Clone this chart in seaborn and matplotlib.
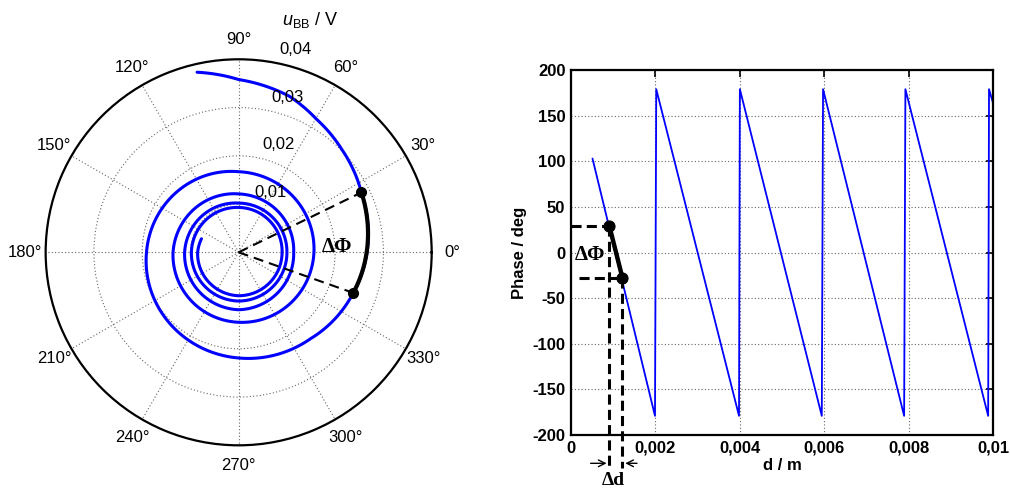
import numpy as np
import pandas as pd
import matplotlib
matplotlib.use("Agg")
import matplotlib.pyplot as plt
import seaborn as sns

# polar plot: phase (deg, unwrapped) and amplitude u_BB (V) read from the spiral
spiral_deg = [103, 90, 72, 60, 45, 26, 0, -19.5, -50, -90, -180, -270, -360,
              -450, -540, -630, -720, -810, -900, -990, -1080, -1170, -1260,
              -1350, -1440, -1530, -1620, -1640]
spiral_amp = [0.0383, 0.0358, 0.0340, 0.0320, 0.0302, 0.0283, 0.0266, 0.0252,
              0.0233, 0.0219, 0.0191, 0.0167, 0.0156, 0.0145, 0.0136, 0.0121,
              0.0114, 0.0119, 0.0112, 0.0102, 0.0100, 0.0101, 0.0098, 0.0093,
              0.0090, 0.0090, 0.0085, 0.0082]

# phase vs distance (sawtooth corners)
dist_m = [0.00051, 0.00199, 0.00202, 0.00398, 0.00400, 0.00594, 0.00597,
          0.00789, 0.00792, 0.00988, 0.00990, 0.01000]
phase_deg = [103, -179, 179, -179, 179, -179, 179, -179, 179, -179, 179, 163]

# the two marked points
mark_polar_deg = [26, -19.5]
mark_polar_amp = [0.0283, 0.0252]
mark_d = [0.00091, 0.00122]
mark_phase = [29, -28]

ring_vals = [0.01, 0.02, 0.03, 0.04]
ring_labels = ["0,01", "0,02", "0,03", "0,04"]
angle_ticks = list(range(0, 360, 30))
angle_labels = [f"{a}°" for a in angle_ticks]
x_ticks = [0, 0.002, 0.004, 0.006, 0.008, 0.01]
x_labels = ["0", "0,002", "0,004", "0,006", "0,008", "0,01"]
y_ticks = list(range(-200, 201, 50))
y_labels = [str(v) for v in y_ticks]

sns.set_theme(style="white")
plt.rcParams['font.family'] = ['Liberation Sans', 'DejaVu Sans']
plt.rcParams['mathtext.fontset'] = 'custom'
plt.rcParams['mathtext.rm'] = 'Liberation Sans'
plt.rcParams['mathtext.it'] = 'Liberation Sans:italic'
plt.rcParams['text.color'] = 'black'
plt.rcParams['axes.labelcolor'] = 'black'
plt.rcParams['xtick.color'] = 'black'
plt.rcParams['ytick.color'] = 'black'

fig = plt.figure(figsize=(10.1, 4.9), dpi=100)
axp = fig.add_axes([0.0452, 0.0912, 0.3822, 0.7878], projection='polar')
axr = fig.add_axes([0.5653, 0.1122, 0.4181, 0.7449])

blue = "#0000ff"
grid_style = dict(color='0.4', linestyle=(0, (1, 2)), lw=0.8)

# ---- polar plot ----
spiral = pd.DataFrame({"theta": np.deg2rad(spiral_deg), "amp": spiral_amp})
sns.lineplot(data=spiral, x="theta", y="amp", sort=False, estimator=None,
             color=blue, lw=2.2, ax=axp)
axp.lines[-1].get_path()._interpolation_steps = 60

for a, r in zip(mark_polar_deg, mark_polar_amp):
    axp.plot([np.deg2rad(a)] * 2, [0, r], color='black', lw=1.5,
             linestyle='--', dashes=(4.8, 2.9))
sns.lineplot(x=np.deg2rad(mark_polar_deg), y=mark_polar_amp, sort=False,
             estimator=None, color='black', lw=3, ax=axp)
axp.lines[-1].get_path()._interpolation_steps = 30
axp.plot(np.deg2rad(mark_polar_deg), mark_polar_amp, 'o', color='black', ms=7)

axp.set_ylim(0, 0.04)
axp.set_yticks(ring_vals[:-1])
axp.set_yticklabels([])
axp.set_xticks(np.deg2rad(angle_ticks))
axp.set_xticklabels([])
axp.set_xlabel("")
axp.set_ylabel("")
axp.grid(True, **grid_style)
axp.spines['polar'].set_linewidth(1.6)
axp.spines['polar'].set_color('black')

for a, lab in zip(angle_ticks, angle_labels):
    axp.text(np.deg2rad(a), 0.0442, lab, ha='center', va='center', fontsize=12)
for v, lab in zip(ring_vals, ring_labels):
    axp.annotate(lab, xy=(np.deg2rad(80), v), xytext=(17, 9),
                 textcoords='offset points', ha='center', va='center',
                 fontsize=12)

fig.text(310 / 1010, 1 - 20 / 490, r'$u_{\mathrm{BB}}$ / V', fontsize=13,
         ha='center', va='center')
fig.text(337 / 1010, 1 - 247 / 490, 'ΔΦ', fontsize=15, fontweight='bold',
         family='Liberation Serif', ha='center', va='center')

# ---- phase vs distance ----
df = pd.DataFrame({"d": dist_m, "phase": phase_deg})
sns.lineplot(data=df, x="d", y="phase", sort=False, estimator=None,
             color=blue, lw=1.3, ax=axr)

dash_kw = dict(color='black', lw=2.2, linestyle='--', dashes=(3.3, 1.7),
               clip_on=False)
axr.plot([0, mark_d[0]], [mark_phase[0]] * 2, **dash_kw)
axr.plot([0.0002, mark_d[1]], [mark_phase[1]] * 2, **dash_kw)
for d, p in zip(mark_d, mark_phase):
    axr.plot([d, d], [p, -236], **dash_kw)

sns.lineplot(x=mark_d, y=mark_phase, sort=False, estimator=None,
             color='black', lw=3.2, marker='o', markersize=8,
             markeredgecolor='black', ax=axr)

arrow_y = -231
axr.annotate('', xy=(mark_d[0], arrow_y), xytext=(0.0004, arrow_y),
             arrowprops=dict(arrowstyle='->', lw=1, color='black'),
             annotation_clip=False)
axr.annotate('', xy=(mark_d[1], arrow_y), xytext=(0.00163, arrow_y),
             arrowprops=dict(arrowstyle='->', lw=1, color='black'),
             annotation_clip=False)

fig.text(613 / 1010, 1 - 489 / 490, 'Δd', fontsize=14, fontweight='bold',
         family='Liberation Serif', ha='center', va='bottom')
fig.text(590 / 1010, 1 - 255 / 490, 'ΔΦ', fontsize=15, fontweight='bold',
         family='Liberation Serif', ha='center', va='center')

axr.set_xlim(0, 0.01)
axr.set_ylim(-200, 200)
axr.set_xticks(x_ticks)
axr.set_xticklabels(x_labels, fontsize=12, fontweight='bold')
axr.set_yticks(y_ticks)
axr.set_yticklabels(y_labels, fontsize=12, fontweight='bold')
axr.tick_params(direction='in', length=5, width=1.2, top=True, right=True,
                pad=4, colors='black')
axr.set_xlabel('d / m', fontsize=12, fontweight='bold', labelpad=2)
axr.set_ylabel('Phase / deg', fontsize=12, fontweight='bold', labelpad=4)
axr.grid(True, **grid_style)
for sp in axr.spines.values():
    sp.set_linewidth(1.6)
    sp.set_color('black')

fig.savefig("out.png", dpi=100)
